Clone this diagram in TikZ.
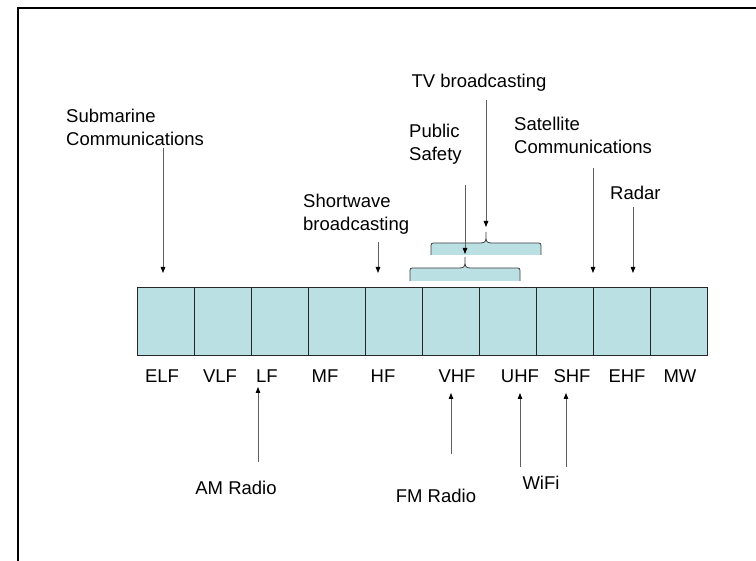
\documentclass[tikz,border=0pt]{standalone}
\usepackage{fontspec}
\setmainfont{Liberation Sans}
\usetikzlibrary{arrows.meta}
\definecolor{bandfill}{RGB}{187,224,227}
\definecolor{arrowgray}{RGB}{95,95,95}
\begin{document}
\begin{tikzpicture}[x=1pt,y=-1pt,
  band/.style={draw=black!85, line width=0.8pt, fill=bandfill, minimum width=57pt, minimum height=68pt, inner sep=0pt, outer sep=0pt},
  lbl/.style={font=\fontsize{18.5}{23}\selectfont, inner sep=0pt, anchor=base},
  mlbl/.style={font=\fontsize{18.5}{23}\selectfont, inner sep=0pt, align=left, anchor=north west},
  arr/.style={draw=arrowgray, line width=0.8pt, -{Triangle[length=6pt,width=4.5pt,color=black]}},
  bracefill/.style={fill=bandfill},
  braceline/.style={draw=black!75, line width=0.8pt}
]
\fill[white] (0,0) rectangle (756,561);
\useasboundingbox (0,0) rectangle (756,561);
% frame
\draw[line width=2pt] (18,561) -- (18,8) -- (757,8);

% bands
\foreach \n [count=\i] in {ELF,VLF,LF,MF,HF,VHF,UHF,SHF,EHF,MW}{
  \node[band] (b\i) at ({137+57*\i-28.5},321) {};
}
% band labels
\node[lbl] (tELF) at (162,383) {ELF};
\node[lbl] (tVLF) at (220,383) {VLF};
\node[lbl] (tLF)  at (267,383) {LF};
\node[lbl] (tMF)  at (325,383) {MF};
\node[lbl] (tHF)  at (383,383) {HF};
\node[lbl] (tVHF) at (457,383) {VHF};
\node[lbl] (tUHF) at (520,383) {UHF};
\node[lbl] (tSHF) at (572,383) {SHF};
\node[lbl] (tEHF) at (627,383) {EHF};
\node[lbl] (tMW)  at (680,383) {MW};

% braces
\path[bracefill] (431,255) -- (431,248) .. controls (431,243) .. (436,243) -- (481,243)
  .. controls (486,243) and (486,240) .. (486,236) -- (486,232) -- (486,236)
  .. controls (486,240) and (486,243) .. (491,243) -- (536,243)
  .. controls (541,243) .. (541,248) -- (541,255) -- cycle;
\path[braceline] (431,255) -- (431,248) .. controls (431,243) .. (436,243) -- (481,243)
  .. controls (486,243) and (486,240) .. (486,236) -- (486,232) -- (486,236)
  .. controls (486,240) and (486,243) .. (491,243) -- (536,243)
  .. controls (541,243) .. (541,248) -- (541,255);
\path[bracefill] (410,281) -- (410,273) .. controls (410,268) .. (415,268) -- (460,268)
  .. controls (465,268) and (465,265) .. (465,261) -- (465,257) -- (465,261)
  .. controls (465,265) and (465,268) .. (470,268) -- (515,268)
  .. controls (520,268) .. (520,273) -- (520,281) -- cycle;
\path[braceline] (410,281) -- (410,273) .. controls (410,268) .. (415,268) -- (460,268)
  .. controls (465,268) and (465,265) .. (465,261) -- (465,257) -- (465,261)
  .. controls (465,265) and (465,268) .. (470,268) -- (515,268)
  .. controls (520,268) .. (520,273) -- (520,281);

% upper labels
\node[mlbl] (sub) at (66,109) {Submarine\\Communications};
\node[lbl] (tv) at (479,88) {TV broadcasting};
\node[mlbl] (ps) at (409,124) {Public\\Safety};
\node[mlbl] (sw) at (303,194) {Shortwave\\broadcasting};
\node[mlbl] (sat) at (514,117) {Satellite\\Communications};
\node[mlbl] (rad) at (610,186) {Radar};

% lower labels
\node[lbl] (am) at (236,495) {AM Radio};
\node[lbl] (fm) at (436,503) {FM Radio};
\node[lbl] (wifi) at (541,490) {WiFi};

% arrow end points
\coordinate (subS) at (163,148);  \coordinate (subE) at (163,273);
\coordinate (tvS) at (486,100);   \coordinate (tvE) at (486,227);
\coordinate (psS) at (465,185);   \coordinate (psE) at (465,254);
\coordinate (swS) at (378,242);   \coordinate (swE) at (378,273);
\coordinate (satS) at (593,168);  \coordinate (satE) at (593,273);
\coordinate (radS) at (633,207);  \coordinate (radE) at (633,273);
\coordinate (amS) at (258,462);   \coordinate (amE) at (258,387);
\coordinate (fmS) at (451,454);   \coordinate (fmE) at (451,393);
\coordinate (wiS) at (520,467);   \coordinate (wiE) at (520,393);
\coordinate (wjS) at (566,467);   \coordinate (wjE) at (566,393);

\draw[arr] (subS) -- (subE);
\draw[arr] (tvS) -- (tvE);
\draw[arr] (psS) -- (psE);
\draw[arr] (swS) -- (swE);
\draw[arr] (satS) -- (satE);
\draw[arr] (radS) -- (radE);
\draw[arr] (amS) -- (amE);
\draw[arr] (fmS) -- (fmE);
\draw[arr] (wiS) -- (wiE);
\draw[arr] (wjS) -- (wjE);
\end{tikzpicture}
\end{document}
